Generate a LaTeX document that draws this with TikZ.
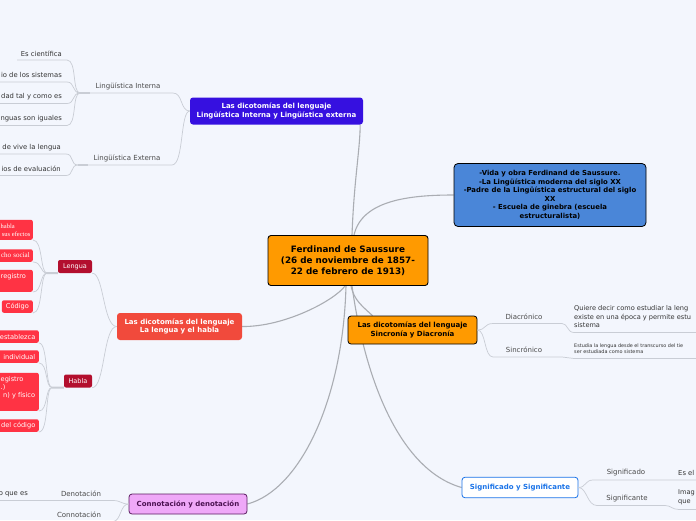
\documentclass[tikz,border=0pt]{standalone}
\usepackage{fontspec}
\setmainfont{DejaVu Sans}
\newfontfamily\seriffam{Liberation Serif}
\definecolor{bgc}{HTML}{F3F6FD}
\definecolor{linec}{HTML}{C9CDD5}
\definecolor{mainlinec}{HTML}{AAADB3}
\definecolor{labelc}{HTML}{4A4A4A}
\definecolor{leafc}{HTML}{333333}
\definecolor{orangec}{HTML}{FF9A00}
\definecolor{lic}{HTML}{3610E0}
\definecolor{vidac}{HTML}{4A86D8}
\definecolor{lhc}{HTML}{F14A3C}
\definecolor{darkred}{HTML}{B30F2E}
\definecolor{redleaf}{HTML}{FF3344}
\definecolor{confill}{HTML}{EFA8F8}
\definecolor{conborder}{HTML}{5B1D61}
\definecolor{context}{HTML}{4A1150}
\definecolor{sgc}{HTML}{1A73E8}
\begin{document}
\pgfdeclarelayer{back}\pgfdeclarelayer{lines}\pgfsetlayers{back,lines,main}
\begin{tikzpicture}[x=1pt,y=-1pt,
  lbl/.style={font=\fontsize{7}{8}\selectfont, text=labelc, inner sep=0pt},
  leaf/.style={font=\fontsize{6.8}{8.5}\selectfont, text=leafc, inner sep=0pt},
  conn/.style={draw=linec, line width=0.7pt},
  stub/.style={draw=linec, line width=2pt},
  mainconn/.style={draw=mainlinec, line width=1.1pt},
  topic/.style={rectangle, rounded corners=3pt, align=center, inner sep=0pt,
    font=\bfseries\fontsize{7}{9}\selectfont},
  sub/.style={rectangle, rounded corners=2pt, fill=darkred, text=white, inner xsep=3pt,
    inner ysep=0pt, minimum height=13pt, font=\fontsize{6.5}{7}\selectfont},
  redbox/.style={rectangle, rounded corners=2pt, fill=redleaf, text=white, inner xsep=3pt,
    inner ysep=0pt, text width=44pt, align=right, minimum height=12.5pt,
    font=\fontsize{6.6}{7.5}\selectfont},
  boxtxt/.style={text=white, inner sep=0pt, font=\fontsize{6.6}{7.5}\selectfont}
]
\begin{pgfonlayer}{back}
\fill[bgc] (0,0) rectangle (696,520);
\end{pgfonlayer}
\useasboundingbox (0,0) rectangle (696,520);

% ---------- main boxes ----------
\node[topic, draw=black, line width=0.9pt, fill=orangec, minimum width=160pt, minimum height=50pt,
  font=\bfseries\fontsize{8.8}{11}\selectfont] (c) at (348,260.5)
  {Ferdinand de Saussure\\(26 de noviembre de 1857-\\22 de febrero de 1913)};
\node[topic, fill=lic, text=white, minimum width=173pt, minimum height=27pt] (li) at (276.5,111)
  {Las dicotomías del lenguaje\\Lingüística Interna y Lingüística externa};
\node[topic, draw=black, line width=0.8pt, fill=vidac, minimum width=192pt, minimum height=63pt,
  rounded corners=4pt, font=\bfseries\fontsize{6.9}{8.5}\selectfont] (vida) at (550,195)
  {-Vida y obra Ferdinand de Saussure.\\-La Lingüística moderna del siglo XX\\-Padre de la Lingüística estructural del siglo\\XX\\- Escuela de ginebra (escuela\\estructuralista)};
\node[topic, fill=lhc, text=white, minimum width=125pt, minimum height=27pt,
  font=\bfseries\fontsize{7}{8.5}\selectfont] (lh) at (179.5,326.5)
  {Las dicotomías del lenguaje\\La lengua y el habla};
\node[topic, draw=black, line width=0.8pt, fill=orangec, minimum width=129pt, minimum height=28pt] (sd) at (412.5,330)
  {Las dicotomías del lenguaje\\Sincronía y Diacronía};
\node[topic, draw=conborder, line width=0.8pt, fill=confill, text=context, minimum width=118pt, minimum height=20pt] (con) at (188,504)
  {Connotación y denotación};
\node[topic, draw=sgc, line width=0.8pt, fill=white, text=sgc, minimum width=116pt, minimum height=20.5pt] (sg) at (520,487.5)
  {Significado y Significante};

% ---------- main connectors ----------
\begin{pgfonlayer}{lines}
\draw[mainconn] ([xshift=4pt]c.north) .. controls (354,180) and (360,150) .. ([xshift=-3pt]li.south east);
\draw[mainconn] ([xshift=6pt]c.north) .. controls (362,200) and (410,195) .. (vida.west);
\draw[mainconn] ([xshift=-3pt]c.south) .. controls (335,300) and (285,327) .. (lh.east);
\draw[mainconn] ([xshift=3pt]c.south) .. controls (354,300) and (362,306) .. ([xshift=-40pt]sd.north);
\draw[mainconn] ([xshift=-2pt]c.south) .. controls (343,400) and (300,490) .. (con.east);
\draw[mainconn] ([xshift=4pt]c.south) .. controls (365,380) and (400,470) .. (sg.west);
\end{pgfonlayer}

% ---------- Lingüística Interna / Externa ----------
\node[lbl] (lint) at (128,86) {Lingüística Interna};
\coordinate (linta) at (80,93); \coordinate (lintb) at (173,93);
\draw[conn] (linta) -- (lintb) .. controls (183,93) and (180,111) .. (li.west);
\draw[stub] (linta) -- ++(10,0);
\node[lbl] (lext) at (127,158) {Lingüística Externa};
\coordinate (lexta) at (78,165); \coordinate (lextb) at (172,165);
\draw[conn] (lexta) -- (lextb) .. controls (184,165) and (180,111) .. (li.west);
\draw[stub] (lexta) -- ++(10,0);

\node[leaf, anchor=east] (i1) at (62,54) {Es científica};
\coordinate (i1a) at (17,60); \coordinate (i1b) at (67,60);
\draw[conn] (i1a) -- (i1b) .. controls (77,60) and (72,93) .. (linta);
\node[leaf, anchor=east] (i2) at (62,75) {io de los sistemas};
\coordinate (i2a) at (0,82); \coordinate (i2b) at (67,82);
\draw[conn] (i2a) -- (i2b) .. controls (75,82) and (72,93) .. (linta);
\node[leaf, anchor=east] (i3) at (62,97) {dad tal y como es};
\coordinate (i3a) at (0,103.5); \coordinate (i3b) at (67,103.5);
\draw[conn] (i3a) -- (i3b) .. controls (75,103.5) and (72,93) .. (linta);
\node[leaf, anchor=east] (i4) at (62,119) {nguas son iguales};
\coordinate (i4a) at (0,125.5); \coordinate (i4b) at (67,125.5);
\draw[conn] (i4a) -- (i4b) .. controls (77,125.5) and (72,93) .. (linta);

\node[leaf, anchor=east] (e1) at (61,148) {de vive la lengua};
\coordinate (e1a) at (0,154); \coordinate (e1b) at (66,154);
\draw[conn] (e1a) -- (e1b) .. controls (74,154) and (70,165) .. (lexta);
\node[leaf, anchor=east] (e2) at (61,169) {ios de evaluación};
\coordinate (e2a) at (0,175.5); \coordinate (e2b) at (66,175.5);
\draw[conn] (e2a) -- (e2b) .. controls (74,175.5) and (70,165) .. (lexta);

% ---------- Lengua / Habla ----------
\node[sub, minimum width=34pt] (lg) at (75,266.5) {Lengua};
\node[sub, minimum width=28pt] (hb) at (78,381) {Habla};
\draw[conn] (lg.south east) .. controls (104,273) and (103,326.5) .. (lh.west);
\draw[conn] (hb.south east) .. controls (105,387.5) and (103,326.5) .. (lh.west);
\coordinate (lgb) at (47,273);
\coordinate (hbb) at (52,387.5);
\draw[stub] (lgb) -- (lg.south west);
\draw[stub] (hbb) -- (hb.south west);

\node[redbox, minimum height=20pt, anchor=south east] (r1) at (33,240) {};
\node[boxtxt, anchor=west, font=\seriffam\fontsize{6.5}{7.5}\selectfont] (r1a) at (0.5,226.5) {habla};
\node[boxtxt, anchor=east, font=\seriffam\fontsize{6.5}{7.5}\selectfont] (r1b) at (30.5,234) {sus efectos};
\node[redbox, anchor=south east, font=\seriffam\fontsize{7}{7.5}\selectfont] (r2) at (33,262) {cho social};
\node[redbox, minimum height=22pt, anchor=south east] (r3) at (33,292) {};
\node[boxtxt, anchor=west] (r3t) at (0.5,277) {registro};
\node[redbox, text width=, align=center, inner xsep=4pt, anchor=south east] (r4) at (33,313) {Código};
\draw[conn] (r1.south east) .. controls (43,240) and (40,273) .. (lgb);
\draw[conn] (r2.south east) .. controls (42,262) and (40,273) .. (lgb);
\draw[conn] (r3.south east) .. controls (42,292) and (40,273) .. (lgb);
\draw[conn] (r4.south east) .. controls (43,313) and (40,273) .. (lgb);

\node[redbox, anchor=south east, inner xsep=3.5pt] (h1) at (39,343) {establezca};
\node[redbox, anchor=south east, inner xsep=3.5pt] (h2) at (39,363) {individual};
\node[redbox, minimum height=38pt, anchor=south east] (h3) at (39,411) {};
\node[boxtxt, anchor=west] (h3a) at (0.5,380) {egistro};
\node[boxtxt, anchor=west] (h3b) at (0.5,387.5) {.)};
\node[boxtxt, anchor=west] (h3c) at (3,396) {n) y físico};
\node[redbox, anchor=south east, inner xsep=3.5pt] (h4) at (39,432) {del código};
\draw[conn] (h1.south east) .. controls (48,343) and (45,387.5) .. (hbb);
\draw[conn] (h2.south east) .. controls (48,363) and (45,387.5) .. (hbb);
\draw[conn] (h3.south east) .. controls (48,411) and (45,387.5) .. (hbb);
\draw[conn] (h4.south east) .. controls (49,432) and (45,387.5) .. (hbb);

% ---------- Connotación y denotación ----------
\node[lbl] (dn) at (81,494) {Denotación};
\coordinate (dna) at (50,500.5); \coordinate (dnb) at (113,500.5);
\draw[conn] (dna) -- (dnb) .. controls (121,500.5) and (121,504) .. (con.west);
\node[leaf, anchor=east] (dl) at (28,494) {o que es};
\coordinate (dla) at (0,500.5);
\draw[conn] (dla) -- (dna);
\node[lbl] (cn) at (79,514.5) {Connotación};
\coordinate (cna) at (50,521.5); \coordinate (cnb) at (113,521.5);
\draw[conn] (cna) -- (cnb) .. controls (121,521.5) and (120,504) .. (con.west);

% ---------- Sincronía y Diacronía ----------
\node[lbl] (dia) at (524,317) {Diacrónico};
\coordinate (diaa) at (493,323.5); \coordinate (diab) at (562,323.5);
\coordinate (dla1) at (574,332.5); \coordinate (dla2) at (700,332.5);
\draw[conn] (sd.east) .. controls (486,330) and (484,323.5) .. (diaa) -- (diab)
  .. controls (568,323.5) and (567,332.5) .. (dla1) -- (dla2);
\node[leaf, anchor=north west, align=left, font=\fontsize{6.6}{8.5}\selectfont] (dtx) at (574,305.5)
  {Quiere decir como estudiar la leng\\existe en una época y permite estu\\sistema};
\node[lbl] (sin) at (524,350) {Sincrónico};
\coordinate (sina) at (493,357); \coordinate (sinb) at (562,357);
\coordinate (sla1) at (574,358.5); \coordinate (sla2) at (700,358.5);
\draw[conn] (sd.east) .. controls (486,330) and (484,357) .. (sina) -- (sinb)
  .. controls (568,357) and (568,358.5) .. (sla1) -- (sla2);
\node[leaf, anchor=north west, align=left, font=\fontsize{4.9}{6.5}\selectfont] (stx) at (574,343.3)
  {Estudia la lengua desde el transcurso del tie\\ser estudiada como sistema};

% ---------- Significado y Significante ----------
\node[lbl] (sdo) at (626,473) {Significado};
\coordinate (sdoa) at (593,480); \coordinate (sdob) at (700,480);
\draw[conn] (sg.east) .. controls (586,487.5) and (585,480) .. (sdoa) -- (sdob);
\node[leaf, anchor=west] (sdol) at (678,473) {Es el};
\node[lbl] (ste) at (627,499) {Significante};
\coordinate (stea) at (597,505.5); \coordinate (steb) at (665,505.5);
\coordinate (stla) at (679,509.5); \coordinate (stlb) at (700,509.5);
\draw[conn] (sg.east) .. controls (587,487.5) and (587,505.5) .. (stea) -- (steb)
  .. controls (671,505.5) and (672,509.5) .. (stla) -- (stlb);
\node[leaf, anchor=north west, align=left, font=\fontsize{6.6}{8.5}\selectfont] (stel) at (678,489.5)
  {Imag\\que};
\end{tikzpicture}
\end{document}
